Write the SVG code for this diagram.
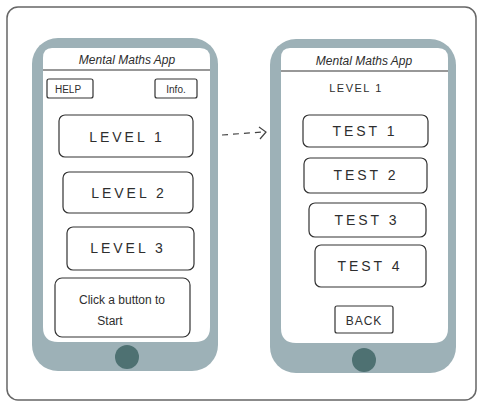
<svg xmlns="http://www.w3.org/2000/svg" width="478" height="405" viewBox="0 0 478 405">
<style>
.frame{fill:#fff;stroke:#666;stroke-width:1.5}
.phone{fill:#9db1b7}
.screen{fill:#fff}
.btn{fill:#fff;stroke:#333;stroke-width:1.2}
.home{fill:#4e7172}
.hdr{stroke:#333;stroke-width:1.2}
.t{font-family:"Liberation Sans",Arial,sans-serif;fill:#2e2e2e;text-anchor:middle}
.title{font-size:12px;font-style:italic}
.lbl{font-size:14px;letter-spacing:3px}
.sm{font-size:10px}
.conn{fill:none;stroke:#444;stroke-width:1.2}
</style>
<rect class="frame" x="7" y="7" width="469" height="393" rx="11"/>
<g id="phone-home">
<rect class="phone" x="32" y="38" width="186" height="333" rx="26"/>
<path class="screen" d="M52,48 H200 Q210,48 210,58 V327 Q210,342 195,342 H58 Q43,342 43,327 V58 Q43,48 52,48 Z"/>
<line class="hdr" x1="43" y1="70" x2="210" y2="70"/>
<text class="t title" x="127" y="64">Mental Maths App</text>
<circle class="home" cx="127" cy="357" r="12"/>
</g>
<g id="help">
<rect class="btn" x="47" y="79" width="46" height="19" rx="2"/>
<text class="t sm" x="68" y="93">HELP</text>
</g>
<g id="info">
<rect class="btn" x="155" y="79" width="42" height="19" rx="2"/>
<text class="t sm" x="176" y="93">Info.</text>
</g>
<g id="level1">
<rect class="btn" x="59" y="115" width="134" height="42" rx="6"/>
<text class="t lbl" x="127" y="142">LEVEL 1</text>
</g>
<g id="level2">
<rect class="btn" x="63" y="172" width="130" height="41" rx="6"/>
<text class="t lbl" x="129" y="198">LEVEL 2</text>
</g>
<g id="level3">
<rect class="btn" x="67" y="227" width="127" height="43" rx="6"/>
<text class="t lbl" x="128" y="253">LEVEL 3</text>
</g>
<g id="start">
<rect class="btn" x="55" y="278" width="135" height="59" rx="7"/>
<text class="t" x="122" y="304" font-size="12">Click a button to</text>
<text class="t" x="110" y="325" font-size="12">Start</text>
</g>
<g id="phone-level">
<rect class="phone" x="270" y="39" width="186" height="334" rx="26"/>
<path class="screen" d="M290,48 H438 Q448,48 448,58 V328 Q448,343 433,343 H296 Q281,343 281,328 V58 Q281,48 290,48 Z"/>
<line class="hdr" x1="281" y1="71" x2="448" y2="71"/>
<text class="t title" x="364" y="65">Mental Maths App</text>
<text class="t" x="356" y="92" font-size="11" letter-spacing="1.5">LEVEL 1</text>
<circle class="home" cx="364" cy="360" r="12"/>
</g>
<g id="test1">
<rect class="btn" x="303" y="115" width="125" height="32" rx="6"/>
<text class="t lbl" x="365" y="136">TEST 1</text>
</g>
<g id="test2">
<rect class="btn" x="304" y="158" width="123" height="35" rx="6"/>
<text class="t lbl" x="366" y="180">TEST 2</text>
</g>
<g id="test3">
<rect class="btn" x="309" y="203" width="117" height="34" rx="6"/>
<text class="t lbl" x="367" y="225">TEST 3</text>
</g>
<g id="test4">
<rect class="btn" x="315" y="245" width="111" height="42" rx="6"/>
<text class="t lbl" x="370" y="271">TEST 4</text>
</g>
<g id="back">
<rect class="btn" x="335" y="306" width="58" height="27" rx="2"/>
<text class="t" x="364" y="325" font-size="12" letter-spacing="1">BACK</text>
</g>
<g id="connectors">
<path class="conn" d="M222,135 L262,132" stroke-dasharray="6,5"/>
<path class="conn" d="M259,127 L266,132 L260,139"/>
</g>
</svg>
